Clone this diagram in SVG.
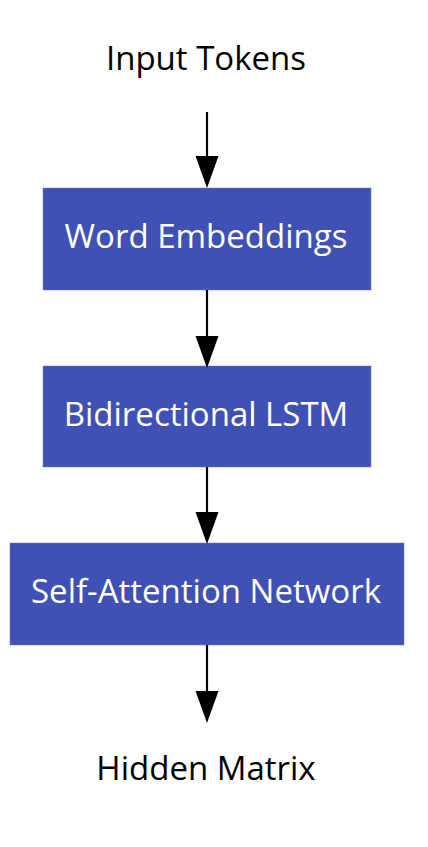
<svg xmlns="http://www.w3.org/2000/svg" width="428" height="847" viewBox="0 0 428 847">
<style>
text{font-family:"Open Sans","Noto Sans",sans-serif;font-size:33px;text-anchor:middle}
.box{fill:#3F51B5;stroke:#6C7BD0;stroke-width:0.5}
.lbl{fill:#ffffff}
.plain{fill:#000000}
.edge{stroke:#000;stroke-width:2.2;fill:none}
</style>
<rect width="428" height="847" fill="#fff"/>
<g id="input"><text class="plain" x="206" y="70">Input Tokens</text></g>
<g id="embed"><rect class="box" x="43" y="188" width="328" height="102"/><text class="lbl" x="206" y="248">Word Embeddings</text></g>
<g id="lstm"><rect class="box" x="43" y="366" width="328" height="101"/><text class="lbl" x="206" y="426">Bidirectional LSTM</text></g>
<g id="attn"><rect class="box" x="10" y="543" width="394" height="102"/><text class="lbl" x="206" y="603">Self-Attention Network</text></g>
<g id="hidden"><text class="plain" x="206" y="780">Hidden Matrix</text></g>
<g id="edges">
<path class="edge" d="M207,112 V158" />
<path d="M195.5,156 L218.5,156 L207,188 Z" fill="#000"/>
<path class="edge" d="M207,290 V338" />
<path d="M195.5,336 L218.5,336 L207,368 Z" fill="#000"/>
<path class="edge" d="M207,467 V514" />
<path d="M195.5,512 L218.5,512 L207,544 Z" fill="#000"/>
<path class="edge" d="M207,645 V693" />
<path d="M195.5,691 L218.5,691 L207,723 Z" fill="#000"/>
</g>
</svg>
